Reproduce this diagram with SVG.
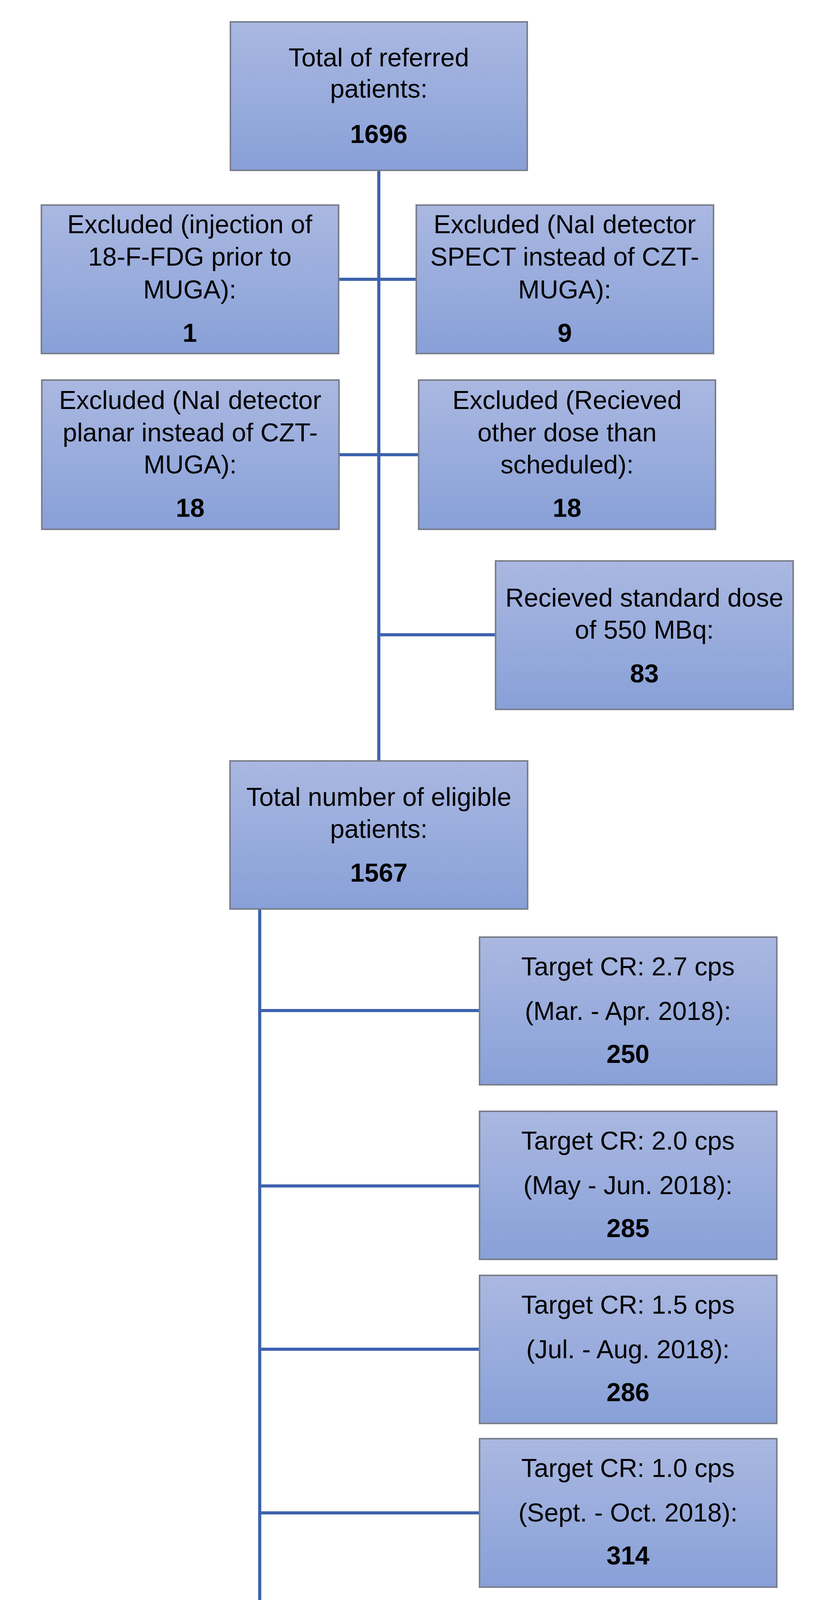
<svg xmlns="http://www.w3.org/2000/svg" width="2133" height="4547" viewBox="0 0 2133 4547">
<defs>
<linearGradient id="g" x1="0" y1="0" x2="0" y2="1"><stop offset="0" stop-color="#aab8e1"/><stop offset="1" stop-color="#88a0d8"/></linearGradient>
<style>
.b{fill:url(#g);stroke:#7a7f8c;stroke-width:4}
text{font-family:"Liberation Sans",sans-serif;font-size:66px;text-anchor:middle;fill:#000}
.n{font-weight:bold}
.c{stroke:#3d63ad;stroke-width:8;fill:none}
</style>
</defs>
<rect width="2133" height="4547" fill="#fff"/>
<g id="connectors">
<path class="c" d="M970 436V1948M867 715H1066M868 1164H1072M970 1625H1269M665 2327V4305H1231M665 2587H1228M665 3036H1228M665 3454H1228M665 3873H1228"/>
</g>
<g id="n1"><rect class="b" x="590" y="56" width="760" height="380"/><text x="970" y="170">Total of referred</text><text x="970" y="250">patients:</text><text class="n" x="970" y="366">1696</text></g>
<g id="n2"><rect class="b" x="106" y="525" width="761" height="380"/><text x="486" y="597">Excluded (injection of</text><text x="486" y="680">18-F-FDG prior to</text><text x="486" y="764">MUGA):</text><text class="n" x="486" y="875">1</text></g>
<g id="n3"><rect class="b" x="1066" y="525" width="761" height="380"/><text x="1446" y="597">Excluded (NaI detector</text><text x="1446" y="680">SPECT instead of CZT-</text><text x="1446" y="764">MUGA):</text><text class="n" x="1446" y="875">9</text></g>
<g id="n4"><rect class="b" x="107" y="973" width="761" height="382"/><text x="487" y="1047">Excluded (NaI detector</text><text x="487" y="1130">planar instead of CZT-</text><text x="487" y="1212">MUGA):</text><text class="n" x="487" y="1323">18</text></g>
<g id="n5"><rect class="b" x="1072" y="973" width="760" height="382"/><text x="1452" y="1047">Excluded (Recieved</text><text x="1452" y="1130">other dose than</text><text x="1452" y="1212">scheduled):</text><text class="n" x="1452" y="1323">18</text></g>
<g id="n6"><rect class="b" x="1269" y="1436" width="762" height="380"/><text x="1650" y="1553">Recieved standard dose</text><text x="1650" y="1635">of 550 MBq:</text><text class="n" x="1650" y="1747">83</text></g>
<g id="n7"><rect class="b" x="589" y="1948" width="762" height="379"/><text x="970" y="2063">Total number of eligible</text><text x="970" y="2145">patients:</text><text class="n" x="970" y="2257">1567</text></g>
<g id="t1"><rect class="b" x="1228" y="2399" width="761" height="378"/><text x="1608" y="2497">Target CR: 2.7 cps</text><text x="1608" y="2611">(Mar. - Apr. 2018):</text><text class="n" x="1608" y="2721">250</text></g>
<g id="t2"><rect class="b" x="1228" y="2845" width="761" height="379"/><text x="1608" y="2943">Target CR: 2.0 cps</text><text x="1608" y="3057">(May - Jun. 2018):</text><text class="n" x="1608" y="3167">285</text></g>
<g id="t3"><rect class="b" x="1228" y="3265" width="761" height="379"/><text x="1608" y="3363">Target CR: 1.5 cps</text><text x="1608" y="3477">(Jul. - Aug. 2018):</text><text class="n" x="1608" y="3587">286</text></g>
<g id="t4"><rect class="b" x="1228" y="3683" width="761" height="380"/><text x="1608" y="3781">Target CR: 1.0 cps</text><text x="1608" y="3895">(Sept. - Oct. 2018):</text><text class="n" x="1608" y="4005">314</text></g>
<g id="t5"><rect class="b" x="1231" y="4116" width="762" height="380"/><text x="1612" y="4214">Target CR: 1.7 cps</text><text x="1612" y="4328">(Nov. 2018 - Jan. 2019):</text><text class="n" x="1612" y="4438">432</text></g>
</svg>
